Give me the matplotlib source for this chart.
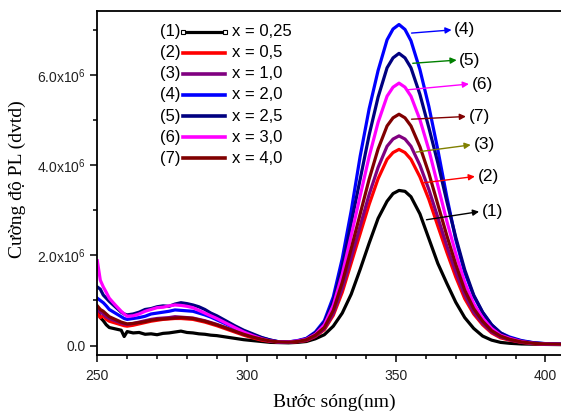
from __future__ import annotations

import matplotlib
matplotlib.use("Agg")
import matplotlib.pyplot as plt
from matplotlib.ticker import FuncFormatter, MultipleLocator


# Wellenlaenge (nm), gemeinsam fuer alle Kurven
wavelength = [250, 251, 252, 253, 254, 256, 258, 259, 260, 262, 264, 266, 268, 270,
              272, 274, 276, 278, 280, 282, 284, 286, 288, 290, 293, 296, 299, 302,
              305, 308, 311, 314, 317, 320, 323, 326, 329, 332, 335, 338, 341, 344,
              347, 349, 351, 353, 355, 358, 361, 364, 367, 370, 373, 376, 379, 382,
              385, 388, 392, 396, 400, 406]

# PL-Intensitaet in Einheiten von 1e6
pl_1 = [0.78, 0.62, 0.55, 0.46, 0.40, 0.37, 0.34, 0.20, 0.31, 0.28, 0.29, 0.25, 0.26, 0.24,
        0.27, 0.28, 0.30, 0.32, 0.29, 0.28, 0.26, 0.25, 0.23, 0.22, 0.19, 0.16, 0.13, 0.11,
        0.09, 0.07, 0.065, 0.06, 0.07, 0.09, 0.15, 0.24, 0.43, 0.72, 1.14, 1.69, 2.27, 2.82,
        3.20, 3.37, 3.44, 3.42, 3.30, 2.92, 2.37, 1.82, 1.38, 0.96, 0.62, 0.38, 0.21, 0.12,
        0.07, 0.05, 0.035, 0.03, 0.025, 0.02]
pl_2 = [0.72, 0.62, 0.66, 0.58, 0.54, 0.50, 0.46, 0.44, 0.43, 0.45, 0.48, 0.51, 0.54, 0.56,
        0.58, 0.59, 0.60, 0.60, 0.59, 0.58, 0.55, 0.52, 0.48, 0.44, 0.37, 0.30, 0.23, 0.17,
        0.12, 0.09, 0.08, 0.07, 0.085, 0.11, 0.20, 0.35, 0.67, 1.18, 1.83, 2.48, 3.13, 3.70,
        4.13, 4.28, 4.35, 4.28, 4.13, 3.74, 3.24, 2.65, 2.07, 1.52, 1.04, 0.70, 0.46, 0.28,
        0.17, 0.12, 0.07, 0.04, 0.03, 0.025]
pl_3 = [0.80, 0.74, 0.70, 0.64, 0.60, 0.55, 0.50, 0.48, 0.47, 0.49, 0.52, 0.55, 0.58, 0.60,
        0.61, 0.62, 0.64, 0.63, 0.62, 0.61, 0.58, 0.55, 0.51, 0.47, 0.40, 0.32, 0.25, 0.19,
        0.14, 0.10, 0.08, 0.075, 0.09, 0.12, 0.21, 0.37, 0.71, 1.27, 1.95, 2.65, 3.35, 3.95,
        4.42, 4.58, 4.65, 4.58, 4.42, 4.00, 3.46, 2.84, 2.21, 1.63, 1.12, 0.74, 0.49, 0.30,
        0.19, 0.13, 0.075, 0.045, 0.03, 0.025]
pl_4 = [1.05, 1.00, 0.95, 0.88, 0.80, 0.72, 0.64, 0.60, 0.58, 0.60, 0.62, 0.65, 0.70, 0.72,
        0.74, 0.76, 0.79, 0.78, 0.77, 0.76, 0.72, 0.68, 0.63, 0.57, 0.48, 0.39, 0.31, 0.24,
        0.17, 0.12, 0.08, 0.08, 0.11, 0.16, 0.30, 0.55, 1.08, 1.93, 2.99, 4.20, 5.25, 6.10,
        6.78, 7.02, 7.12, 7.01, 6.76, 6.12, 5.30, 4.34, 3.30, 2.35, 1.62, 1.10, 0.73, 0.46,
        0.28, 0.19, 0.11, 0.064, 0.043, 0.03]
pl_5 = [1.30, 1.25, 1.12, 1.05, 0.98, 0.86, 0.74, 0.70, 0.68, 0.70, 0.74, 0.80, 0.82, 0.86,
        0.88, 0.87, 0.92, 0.95, 0.93, 0.90, 0.86, 0.80, 0.72, 0.66, 0.55, 0.44, 0.34, 0.26,
        0.18, 0.12, 0.08, 0.08, 0.10, 0.15, 0.28, 0.51, 0.99, 1.76, 2.72, 3.69, 4.67, 5.51,
        6.16, 6.38, 6.48, 6.38, 6.16, 5.57, 4.83, 4.05, 3.20, 2.40, 1.68, 1.12, 0.74, 0.46,
        0.28, 0.17, 0.10, 0.06, 0.04, 0.03]
pl_6 = [1.88, 1.45, 1.30, 1.18, 1.05, 0.90, 0.76, 0.70, 0.65, 0.66, 0.70, 0.76, 0.80, 0.84,
        0.85, 0.88, 0.90, 0.89, 0.87, 0.84, 0.78, 0.72, 0.66, 0.60, 0.50, 0.40, 0.30, 0.22,
        0.15, 0.10, 0.08, 0.08, 0.10, 0.14, 0.25, 0.46, 0.89, 1.58, 2.44, 3.32, 4.19, 4.95,
        5.53, 5.73, 5.82, 5.73, 5.53, 5.01, 4.34, 3.55, 2.76, 2.04, 1.40, 0.93, 0.61, 0.38,
        0.23, 0.16, 0.09, 0.05, 0.035, 0.025]
pl_7 = [0.88, 0.80, 0.76, 0.70, 0.64, 0.58, 0.52, 0.50, 0.48, 0.49, 0.51, 0.53, 0.56, 0.58,
        0.59, 0.60, 0.61, 0.62, 0.61, 0.60, 0.57, 0.54, 0.50, 0.46, 0.39, 0.32, 0.25, 0.19,
        0.14, 0.10, 0.08, 0.075, 0.09, 0.13, 0.23, 0.40, 0.78, 1.40, 2.15, 2.92, 3.69, 4.36,
        4.87, 5.05, 5.13, 5.05, 4.87, 4.41, 3.82, 3.13, 2.44, 1.80, 1.23, 0.82, 0.54, 0.33,
        0.21, 0.14, 0.08, 0.05, 0.035, 0.03]

series = [pl_1, pl_2, pl_3, pl_4, pl_5, pl_6, pl_7]
tags = ["(1)", "(2)", "(3)", "(4)", "(5)", "(6)", "(7)"]
x_labels = ["x = 0,25", "x = 0,5", "x = 1,0", "x = 2,0", "x = 2,5", "x = 3,0", "x = 4,0"]
colors = ["#000000", "#ff0000", "#800080", "#0000ff", "#000080", "#ff00ff", "#800000"]

# Pfeile: (Tag, Start am Peak, Spitze, Farbe) in Datenkoordinaten (nm, 1e6)
arrows = [
    ("(4)", (355.2, 6.93), (368.6, 7.00), "#0000ff"),
    ("(5)", (355.6, 6.26), (370.3, 6.33), "#008000"),
    ("(6)", (353.5, 5.67), (374.4, 5.80), "#ff00ff"),
    ("(7)", (355.2, 5.02), (373.4, 5.08), "#800000"),
    ("(3)", (356.7, 4.29), (375.0, 4.45), "#808000"),
    ("(2)", (359.3, 3.61), (376.4, 3.75), "#ff0000"),
    ("(1)", (360.2, 2.79), (377.8, 2.97), "#000000"),
]


def y_fmt(v, pos):
    if abs(v) < 1e-9:
        return "0.0"
    return f"{v:.1f}x10$^6$"


def main() -> None:
    plt.rcParams["font.family"] = ["Liberation Sans", "DejaVu Sans"]
    plt.rcParams["mathtext.fontset"] = "custom"
    plt.rcParams["mathtext.rm"] = "Liberation Sans"
    plt.rcParams["mathtext.default"] = "regular"

    fig = plt.figure(figsize=(5.61, 4.16), dpi=100)
    ax = fig.add_axes([0.1724, 0.1466, 0.853, 0.827])

    for ys, c in zip(series, colors):
        ax.plot(wavelength, ys, color=c, linewidth=2.3, solid_joinstyle="round")

    ax.set_xlim(249.8, 410)
    ax.set_ylim(-0.21, 7.42)

    ax.xaxis.set_major_locator(MultipleLocator(50))
    ax.xaxis.set_minor_locator(MultipleLocator(10))
    ax.yaxis.set_major_locator(MultipleLocator(2))
    ax.yaxis.set_minor_locator(MultipleLocator(1))
    ax.yaxis.set_major_formatter(FuncFormatter(y_fmt))

    ax.tick_params(which="both", direction="out", top=False, right=False,
                   labelsize=10, labelcolor="#222222")
    ax.tick_params(which="major", length=5, width=1.1, pad=3)
    ax.tick_params(axis="x", which="major", pad=5)
    ax.tick_params(which="minor", length=3, width=1.1)
    for sp in ax.spines.values():
        sp.set_linewidth(1.3)

    ax.set_xlabel("Bước sóng(nm)", family="Liberation Serif", fontsize=14)
    ax.set_ylabel("Cường độ PL (dvtd)", family="Liberation Serif", fontsize=14)
    ax.xaxis.set_label_coords(0.496, -0.112)
    ax.yaxis.set_label_coords(-0.148, 0.51)

    # Legende von Hand
    y0 = 0.940
    dy = 0.0614
    for i, (tag, lab, c) in enumerate(zip(tags, x_labels, colors)):
        yy = y0 - i * dy
        if i == 0:
            ax.plot([0.1803, 0.268], [yy, yy], color=c, linewidth=2.3,
                    transform=ax.transAxes, marker="s", markersize=3,
                    markerfacecolor="white", markeredgewidth=0.8)
        else:
            ax.plot([0.1803, 0.268], [yy, yy], color=c, linewidth=2.6,
                    transform=ax.transAxes)
        ax.text(0.176, yy, tag, transform=ax.transAxes, ha="right", va="center",
                fontsize=12)
        ax.text(0.2826, yy, lab, transform=ax.transAxes, ha="left", va="center",
                fontsize=12)

    for tag, start, head, c in arrows:
        ax.annotate("", xy=head, xytext=start,
                    arrowprops=dict(arrowstyle="-|>", color=c, lw=1.0,
                                    mutation_scale=9, shrinkA=0, shrinkB=0))
        ax.text(head[0] + 0.9, head[1], tag, ha="left", va="center", fontsize=12.5)

    fig.savefig("out.png", dpi=100)


if __name__ == "__main__":
    main()
